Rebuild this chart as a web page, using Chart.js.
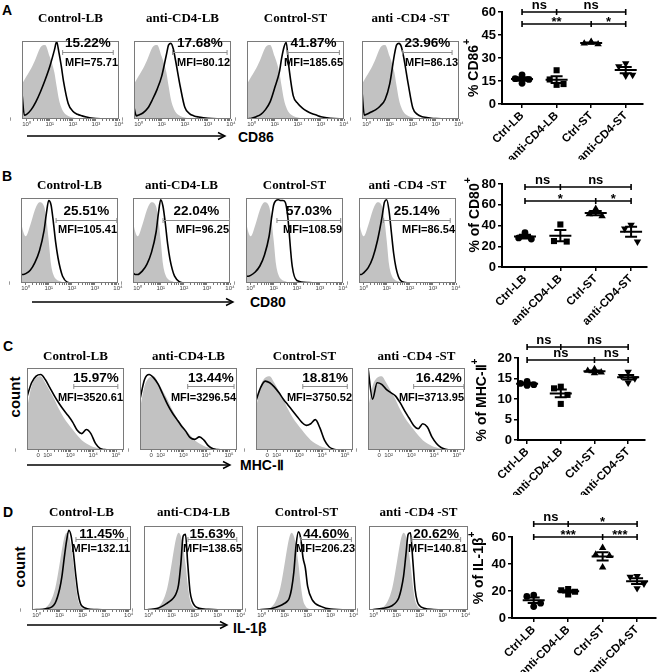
<!DOCTYPE html>
<html>
<head>
<meta charset="utf-8">
<script src="https://cdn.jsdelivr.net/npm/chart.js@4.4.1/dist/chart.umd.min.js"></script>
<style>
  body { margin: 0; background: #fff; }
  #fig { position: relative; width: 660px; height: 672px; overflow: hidden; font-family: 'Liberation Sans', Arial, sans-serif; }
  #fig canvas { position: absolute; }
  .lbl { position: absolute; font-weight: bold; color: #000; white-space: nowrap; line-height: 1; }
  .rot { transform: translate(-50%, -50%) rotate(-90deg); }
</style>
</head>
<body>
<div id="fig">
  <div class="lbl" style="left:2px;top:3px;font-size:14px">A</div>
  <div class="lbl" style="left:2px;top:169px;font-size:14px">B</div>
  <div class="lbl" style="left:3px;top:339px;font-size:14px">C</div>
  <div class="lbl" style="left:3px;top:505px;font-size:14px">D</div>
  <div class="lbl" style="left:238px;top:130px;font-size:14px">CD86</div>
  <div class="lbl" style="left:250px;top:295px;font-size:14px">CD80</div>
  <div class="lbl" style="left:240px;top:458px;font-size:14px">MHC-Ⅱ</div>
  <div class="lbl" style="left:233px;top:621px;font-size:14px">IL-1β</div>
  <div class="lbl rot" style="left:14px;top:397px;font-size:15px">count</div>
  <div class="lbl rot" style="left:19px;top:567px;font-size:15px">count</div>
  <svg width="660" height="672" style="position:absolute;left:0;top:0">
    <g stroke="#000" stroke-width="1.4" fill="none">
      <line x1="27" y1="136" x2="224" y2="136"/><polyline points="218,132.5 225,136 218,139.5"/>
      <line x1="32" y1="302" x2="232" y2="302"/><polyline points="226,298.5 233,302 226,305.5"/>
      <line x1="27" y1="465" x2="229" y2="465"/><polyline points="223,461.5 230,465 223,468.5"/>
      <line x1="27" y1="625" x2="226" y2="625"/><polyline points="220,621.5 227,625 220,628.5"/>
    </g>
  </svg>
</div>
<script>
// ---------- Histogramas (eje x en décadas, altura relativa) ----------
const titulos = ["Control-LB", "anti-CD4-LB", "Control-ST", "anti -CD4 -ST"];

const gridCD86 = [-0.2, -0.1, 0, 0.2, 0.4, 0.6, 0.8, 1.0, 1.2, 1.3, 1.4, 1.5, 1.6, 1.8, 2.0, 2.2, 2.4, 2.6, 2.8, 3.0, 3.4, 4.0];
const isoCD86 = [.45, .5, .55, .65, .78, .92, .95, .8, .6, .42, .25, .15, .09, .04, .02, .01, .005, 0, 0, 0, 0, 0];
const histCD86CtrlLB = [.33, .05, .06, .12, .22, .35, .5, .67, .88, .99, .85, .68, .48, .2, .1, .06, .04, .025, .012, .005, 0, 0];
const histCD86AntiLB = [.15, .04, .05, .08, .14, .25, .38, .55, .82, .95, .97, .9, .75, .42, .15, .07, .04, .025, .015, .008, .002, 0];
const histCD86CtrlST = [0, .005, .01, .03, .06, .12, .22, .4, .6, .78, .92, .98, .7, .3, .2, .14, .1, .07, .05, .03, .01, 0];
const histCD86AntiST = [.35, .05, .06, .09, .12, .17, .25, .45, .82, .95, .97, .93, .8, .45, .14, .06, .03, .02, .01, .005, 0, 0];
const pctCD86 = ["15.22%", "17.68%", "41.87%", "23.96%"];
const mfiCD86 = ["MFI=75.71", "MFI=80.12", "MFI=185.65", "MFI=86.13"];
const gateCD86 = [[1.56, 3.75], [1.47, 3.83], [1.56, 3.8], [1.56, 3.7]];

const gridCD80 = [-0.2, -0.1, 0, 0.2, 0.4, 0.6, 0.8, 0.9, 1.0, 1.1, 1.2, 1.3, 1.4, 1.5, 1.6, 1.8, 2.0, 2.5, 3.0, 4.0];
const isoCD80 = [.72, .6, .55, .68, .86, .95, .9, .75, .5, .22, .1, .05, .03, .02, .01, .005, 0, 0, 0, 0];
const histCD80CtrlLB = [.1, .1, .11, .15, .24, .38, .62, .82, .97, .92, .72, .48, .3, .17, .08, .01, 0, 0, 0, 0];
const histCD80AntiLB = [.12, .1, .1, .14, .22, .36, .6, .82, .98, .9, .7, .46, .28, .16, .08, .015, 0, 0, 0, 0];
const histCD80CtrlST = [.08, .08, .09, .13, .2, .33, .55, .75, .92, .97, .98, .97, .97, .95, .8, .2, .03, .005, 0, 0];
const histCD80AntiST = [.1, .1, .12, .18, .3, .5, .78, .95, .98, .85, .6, .35, .18, .08, .03, .005, 0, 0, 0, 0];
const pctCD80 = ["25.51%", "22.04%", "57.03%", "25.14%"];
const mfiCD80 = ["MFI=105.41", "MFI=96.25", "MFI=108.59", "MFI=86.54"];
const gateCD80 = [[1.32, 3.95], [1.1, 3.98], [1.14, 3.9], [0.85, 3.75]];

const gridMHC = [1.1, 1.3, 1.5, 1.7, 1.9, 2.1, 2.3, 2.5, 2.7, 2.9, 3.1, 3.3, 3.5, 3.7, 3.9, 4.1, 4.3, 4.5, 4.7, 4.9, 5.1, 5.3];
const isoMHC = [.5, .78, .88, .9, .82, .72, .62, .5, .4, .32, .25, .18, .12, .08, .05, .03, .015, .005, 0, 0, 0, 0];
const histMHCCtrlLB = [.65, .82, .9, .92, .86, .76, .66, .57, .49, .42, .34, .24, .2, .25, .2, .08, .02, .005, 0, 0, 0, 0];
const histMHCAntiLB = [.62, .86, .92, .88, .8, .68, .56, .46, .38, .3, .23, .15, .13, .16, .12, .05, .015, .005, 0, 0, 0, 0];
const histMHCCtrlST = [.6, .76, .84, .82, .77, .7, .62, .55, .48, .41, .34, .3, .32, .37, .27, .12, .04, .01, 0, 0, 0, 0];
const histMHCAntiST = [1.0, .62, .82, .8, .74, .7, .66, .58, .48, .39, .3, .26, .32, .28, .16, .08, .03, .01, 0, 0, 0, 0];
const pctMHC = ["15.97%", "13.44%", "18.81%", "16.42%"];
const mfiMHC = ["MFI=3520.61", "MFI=3296.54", "MFI=3750.52", "MFI=3713.95"];
const gateMHC = [[3.15, 5.08], [3.19, 5.22], [3.15, 5.1], [3.1, 5.3]];

const gridIL1B = [-0.2, 0, 0.4, 0.8, 1.0, 1.1, 1.2, 1.3, 1.4, 1.5, 1.6, 1.7, 1.8, 1.9, 2.0, 2.2, 2.6, 3.0, 4.0];
const isoIL1B = [0, .005, .03, .25, .55, .72, .86, .92, .88, .75, .55, .3, .12, .05, .02, .01, 0, 0, 0];
const histIL1BCtrlLB = [0, .005, .015, .08, .25, .4, .62, .82, .95, .88, .68, .42, .2, .08, .04, .015, .005, 0, 0];
const histIL1BAntiLB = [0, .005, .02, .08, .12, .15, .2, .3, .55, .88, .9, .55, .22, .1, .05, .02, .008, .002, 0];
const histIL1BCtrlST = [0, .005, .015, .05, .08, .1, .14, .25, .45, .78, .93, .85, .62, .5, .28, .12, .04, .01, 0];
const histIL1BAntiST = [0, .005, .02, .05, .1, .15, .25, .4, .65, .9, .92, .6, .25, .1, .05, .02, .005, 0, 0];
const pctIL1B = ["11.45%", "15.63%", "44.60%", "20.62%"];
const mfiIL1B = ["MFI=132.11", "MFI=138.65", "MFI=206.23", "MFI=140.81"];
const gateIL1B = [[1.71, 3.95], [1.71, 3.83], [1.7, 3.9], [1.66, 3.78]];

const decTicks = [0, 1, 2, 3, 4];
const decLabels = ["10⁰", "10¹", "10²", "10³", "10⁴"];
const mhcTicks = [1.59, 2, 3, 4, 5];
const mhcLabels = ["0", "10²", "10³", "10⁴", "10⁵"];

// ---------- Gráficos de puntos (% positivas) ----------
const grupos = ["Ctrl-LB", "anti-CD4-LB", "Ctrl-ST", "anti-CD4-ST"];
const cd86CtrlLB = [19, 16.5, 16, 13.5];
const cd86AntiLB = [22, 16, 13, 12.5];
const cd86CtrlST = [40.5, 39.5, 39, 40];
const cd86AntiST = [26.5, 24.5, 19, 18.5];
const cd80CtrlLB = [33, 28, 27];
const cd80AntiLB = [41, 25, 24.5];
const cd80CtrlST = [56, 51, 49];
const cd80AntiST = [40.5, 37, 24.5];
const mhcCtrlLB = [14.3, 13.8, 13.5, 13.3];
const mhcAntiLB = [13, 12.6, 11, 8.8];
const mhcCtrlST = [17.3, 16.9, 16.5, 16.3];
const mhcAntiST = [16.6, 15.6, 15.0, 14.0];
const il1bCtrlLB = [17, 16, 11, 8.5];
const il1bAntiLB = [21.5, 20.5, 19.5, 17.5];
const il1bCtrlST = [52, 47, 46, 37.5];
const il1bAntiST = [31, 30.5, 25.5, 22];

// significancia: nivel y, grupo intermedio, etiquetas
const sigCD86 = [{ y: 60, mid: 2, left: "ns", right: "ns" }, { y: 52, mid: 3, left: "**", right: "*" }];
const sigCD80 = [{ y: 77.5, mid: 2, left: "ns", right: "ns" }, { y: 64, mid: 3, left: "*", right: "*" }];
const sigMHC = [{ y: 22.7, mid: 2, left: "ns", right: "ns" }, { y: 19.4, mid: 3, left: "ns", right: "ns" }];
const sigIL1B = [{ y: 69.5, mid: 2, left: "ns", right: "*" }, { y: 60, mid: 3, left: "***", right: "***" }];

// ---------- estilos ----------
const SANS = "'Liberation Sans', Arial, sans-serif";
const SERIF = "'Liberation Serif', 'Times New Roman', serif";
const GRIS = "#c2c2c2";
const JITTER = { 3: [0, -0.18, 0.18], 4: [0, -0.2, 0.2, 0] };
Chart.defaults.font.family = SANS;

const fig = document.getElementById("fig");

const histRows = [
  { grid: gridCD86, iso: isoCD86, curves: [histCD86CtrlLB, histCD86AntiLB, histCD86CtrlST, histCD86AntiST], pct: pctCD86, mfi: mfiCD86, gates: gateCD86,
    ticks: decTicks, tickText: decLabels, xMin: -0.2, xMax: 4.0, lefts: [22, 134, 247, 362], top: 41, w: 97, h: 78, titleGap: 22, gateY: 0.86, pctAbove: 9, mfiBelow: 10 },
  { grid: gridCD80, iso: isoCD80, curves: [histCD80CtrlLB, histCD80AntiLB, histCD80CtrlST, histCD80AntiST], pct: pctCD80, mfi: mfiCD80, gates: gateCD80,
    ticks: decTicks, tickText: decLabels, xMin: -0.2, xMax: 4.0, lefts: [21, 133, 246, 359], top: 198, w: 97, h: 85, titleGap: 12, gateY: 0.74, pctAbove: 9, mfiBelow: 9 },
  { grid: gridMHC, iso: isoMHC, curves: [histMHCCtrlLB, histMHCAntiLB, histMHCCtrlST, histMHCAntiST], pct: pctMHC, mfi: mfiMHC, gates: gateMHC,
    ticks: mhcTicks, tickText: mhcLabels, xMin: 1.1, xMax: 5.35, lefts: [27, 140, 256, 368], top: 368, w: 97, h: 82, titleGap: 11, gateY: 0.78, pctAbove: 8, mfiBelow: 11 },
  { grid: gridIL1B, iso: isoIL1B, curves: [histIL1BCtrlLB, histIL1BAntiLB, histIL1BCtrlST, histIL1BAntiST], pct: pctIL1B, mfi: mfiIL1B, gates: gateIL1B,
    ticks: decTicks, tickText: decLabels, xMin: -0.2, xMax: 4.1, lefts: [32, 144, 257, 369], top: 526, w: 99, h: 84, titleGap: 13, gateY: 0.845, pctAbove: 5, mfiBelow: 9 }
];

// marcas menores logarítmicas entre décadas
function minorTicks(row) {
  const out = [];
  row.ticks.forEach((t, k) => {
    if (k === 0 && row.ticks === mhcTicks) return;
    for (let m = 2; m <= 9; m++) {
      const v = t + Math.log10(m);
      if (v > row.xMin && v < row.xMax) out.push(v);
    }
  });
  return out;
}

// marco, título, puerta y textos del histograma
const histDecor = {
  id: "histDecor",
  afterDraw(chart, args, o) {
    const { ctx, chartArea: a, scales: { x, y } } = chart;
    ctx.save();
    ctx.strokeStyle = "#7a7a7a";
    ctx.lineWidth = 1;
    ctx.strokeRect(a.left + 0.5, a.top + 0.5, a.right - a.left - 1, a.bottom - a.top - 1);
    ctx.fillStyle = "#000";
    ctx.textAlign = "center";
    ctx.textBaseline = "middle";
    ctx.font = "bold 13px " + SERIF;
    ctx.fillText(o.title, (a.left + a.right) / 2, a.top - o.titleGap);
    const gx0 = x.getPixelForValue(o.gate[0]), gx1 = x.getPixelForValue(o.gate[1]);
    const gy = Math.round(y.getPixelForValue(o.gateY)) + 0.5;
    ctx.strokeStyle = "#8c8c8c";
    ctx.beginPath();
    ctx.moveTo(gx0, gy); ctx.lineTo(gx1, gy);
    ctx.moveTo(gx0, gy - 2.5); ctx.lineTo(gx0, gy + 2.5);
    ctx.moveTo(gx1, gy - 2.5); ctx.lineTo(gx1, gy + 2.5);
    ctx.stroke();
    ctx.font = "bold 13.5px " + SANS;
    ctx.fillText(o.pct, (gx0 + gx1) / 2, gy - o.pctAbove);
    ctx.textAlign = "right";
    ctx.font = "bold 11px " + SANS;
    ctx.fillText(o.mfi, a.right - 1, gy + o.mfiBelow);
    ctx.restore();
  }
};

function histChart(row, i) {
  const padL = 12, padT = 32, padR = 30, padB = 12;
  const cv = document.createElement("canvas");
  cv.width = row.w + padL + padR;
  cv.height = row.h + padT + padB;
  cv.style.left = (row.lefts[i] - padL) + "px";
  cv.style.top = (row.top - padT) + "px";
  fig.appendChild(cv);
  const minors = minorTicks(row);
  const etiqueta = v => {
    const k = row.ticks.indexOf(v);
    return k >= 0 ? row.tickText[k] : "";
  };
  new Chart(cv, {
    type: "line",
    data: {
      datasets: [
        { data: row.grid.map((x, k) => ({ x, y: row.curves[i][k] })), borderColor: "#000", borderWidth: 1.6,
          fill: false, pointRadius: 0, cubicInterpolationMode: "monotone" },
        { data: row.grid.map((x, k) => ({ x, y: row.iso[k] })), borderWidth: 0, borderColor: GRIS, backgroundColor: GRIS,
          fill: "origin", pointRadius: 0, cubicInterpolationMode: "monotone" }
      ]
    },
    options: {
      responsive: false, animation: false, devicePixelRatio: 1, events: [],
      layout: { padding: { top: padT, right: padR, left: 0, bottom: 0 } },
      plugins: {
        legend: { display: false }, tooltip: { enabled: false },
        histDecor: { title: titulos[i], titleGap: row.titleGap, gate: row.gates[i], gateY: row.gateY,
                     pct: row.pct[i], mfi: row.mfi[i], pctAbove: row.pctAbove, mfiBelow: row.mfiBelow }
      },
      scales: {
        x: {
          type: "linear", min: row.xMin, max: row.xMax,
          afterBuildTicks: s => { s.ticks = row.ticks.concat(minors).sort((p, q) => p - q).map(v => ({ value: v })); },
          afterFit: s => { s.height = padB; },
          grid: { drawOnChartArea: false, tickLength: 2, color: "#777" },
          border: { display: false },
          ticks: { autoSkip: false, maxRotation: 0, padding: 0, color: "#444", font: { size: 6 },
                   callback: v => etiqueta(v) }
        },
        y: {
          min: 0, max: 1,
          afterBuildTicks: s => { s.ticks = [{ value: 0 }]; },
          afterFit: s => { s.width = padL; },
          grid: { display: false }, border: { display: false },
          ticks: { padding: 3, color: "#444", font: { size: 6 }, callback: () => "0" }
        }
      }
    },
    plugins: [histDecor]
  });
}

histRows.forEach(row => [0, 1, 2, 3].forEach(i => histChart(row, i)));

// media ± EEM, barras de significancia y título del eje y
const dotDecor = {
  id: "dotDecor",
  afterDraw(chart, args, o) {
    const { ctx, scales: { x, y } } = chart;
    ctx.save();
    ctx.strokeStyle = "#000";
    ctx.fillStyle = "#000";
    ctx.lineWidth = 2;
    o.groups.forEach((vals, g) => {
      const n = vals.length;
      const m = vals.reduce((s, v) => s + v, 0) / n;
      const sd = Math.sqrt(vals.reduce((s, v) => s + (v - m) ** 2, 0) / (n - 1));
      const sem = sd / Math.sqrt(n);
      const cx = x.getPixelForValue(g + 1);
      const ym = y.getPixelForValue(m), yh = y.getPixelForValue(m + sem), yl = y.getPixelForValue(m - sem);
      ctx.beginPath();
      ctx.moveTo(cx - 11, ym); ctx.lineTo(cx + 11, ym);
      ctx.moveTo(cx, yh); ctx.lineTo(cx, yl);
      ctx.moveTo(cx - 6, yh); ctx.lineTo(cx + 6, yh);
      ctx.moveTo(cx - 6, yl); ctx.lineTo(cx + 6, yl);
      ctx.stroke();
    });
    ctx.lineWidth = 1.6;
    ctx.textAlign = "center";
    ctx.textBaseline = "alphabetic";
    ctx.font = "bold 13px " + SANS;
    o.sig.forEach(s => {
      const yy = Math.round(y.getPixelForValue(s.y));
      const x0 = x.getPixelForValue(1), xm = x.getPixelForValue(s.mid), x1 = x.getPixelForValue(4);
      ctx.beginPath();
      ctx.moveTo(x0, yy); ctx.lineTo(x1, yy);
      [x0, xm, x1].forEach(px => { ctx.moveTo(px, yy - 3); ctx.lineTo(px, yy + 3); });
      ctx.stroke();
      [[s.left, (x0 + xm) / 2], [s.right, (xm + x1) / 2]].forEach(([t, px]) => {
        ctx.fillText(t, px, t.includes("*") ? yy + 2 : yy - 3);
      });
    });
    ctx.translate(o.titleX, o.titleY);
    ctx.rotate(-Math.PI / 2);
    ctx.textAlign = "left";
    ctx.textBaseline = "middle";
    ctx.font = "bold 14px " + SANS;
    const w = ctx.measureText(o.title).width;
    ctx.font = "bold 10px " + SANS;
    const w2 = ctx.measureText("+").width;
    const start = -(w + w2) / 2;
    ctx.font = "bold 14px " + SANS;
    ctx.fillText(o.title, start, 0);
    ctx.font = "bold 10px " + SANS;
    ctx.fillText("+", start + w, -7);
    ctx.restore();
  }
};

const marcas = [
  { pointStyle: "circle", rotation: 0, r: 3.4 },
  { pointStyle: "rect", rotation: 0, r: 4.3 },
  { pointStyle: "triangle", rotation: 0, r: 4.3 },
  { pointStyle: "triangle", rotation: 180, r: 4.3 }
];

const dotPanels = [
  { groups: [cd86CtrlLB, cd86AntiLB, cd86CtrlST, cd86AntiST], sig: sigCD86, title: "% CD86", yMax: 60, yStep: 15,
    T: 0, H: 160, area: { l: 502, t: 12, r: 643, b: 104 }, xMin: 0.42, xMax: 4.5, titleAt: [474, 68] },
  { groups: [cd80CtrlLB, cd80AntiLB, cd80CtrlST, cd80AntiST], sig: sigCD80, title: "% of CD80", yMax: 80, yStep: 20,
    T: 160, H: 165, area: { l: 502, t: 184, r: 647, b: 267 }, xMin: 0.35, xMax: 4.45, titleAt: [475, 215] },
  { groups: [mhcCtrlLB, mhcAntiLB, mhcCtrlST, mhcAntiST], sig: sigMHC, title: "% of MHC-Ⅱ", yMax: 20, yStep: 5,
    T: 325, H: 170, area: { l: 518, t: 358, r: 645, b: 440 }, xMin: 0.73, xMax: 4.5, titleAt: [482, 400] },
  { groups: [il1bCtrlLB, il1bAntiLB, il1bCtrlST, il1bAntiST], sig: sigIL1B, title: "% of IL-1β", yMax: 60, yStep: 20,
    T: 495, H: 177, area: { l: 512, t: 537, r: 656, b: 618 }, xMin: 0.37, xMax: 4.54, titleAt: [479, 568] }
];

function dotChart(p) {
  const L = 455, W = 205;
  const cv = document.createElement("canvas");
  cv.width = W; cv.height = p.H;
  cv.style.left = L + "px"; cv.style.top = p.T + "px";
  fig.appendChild(cv);
  const datasets = p.groups.map((vals, g) => ({
    data: vals.map((v, k) => ({ x: g + 1 + JITTER[vals.length][k], y: v })),
    pointStyle: marcas[g].pointStyle, pointRotation: marcas[g].rotation, pointRadius: marcas[g].r,
    pointBackgroundColor: "#000", pointBorderColor: "#000", pointBorderWidth: 0, showLine: false
  }));
  new Chart(cv, {
    type: "scatter",
    data: { datasets },
    options: {
      responsive: false, animation: false, devicePixelRatio: 1, events: [],
      layout: { padding: { top: p.area.t - p.T, right: L + W - p.area.r, left: 0, bottom: 0 } },
      plugins: {
        legend: { display: false }, tooltip: { enabled: false },
        dotDecor: { groups: p.groups, sig: p.sig, title: p.title, titleX: p.titleAt[0] - L, titleY: p.titleAt[1] - p.T }
      },
      scales: {
        x: {
          type: "linear", min: p.xMin, max: p.xMax,
          afterBuildTicks: s => { s.ticks = [1, 2, 3, 4].map(v => ({ value: v })); },
          afterFit: s => { s.height = p.T + p.H - p.area.b; },
          grid: { drawOnChartArea: false, tickLength: 4, color: "#000", lineWidth: 1.5 },
          border: { color: "#000", width: 2 },
          ticks: { autoSkip: false, minRotation: 45, maxRotation: 45, padding: 1, color: "#000",
                   font: { size: 11.5, weight: "bold" }, callback: v => grupos[v - 1] }
        },
        y: {
          min: 0, max: p.yMax,
          afterFit: s => { s.width = p.area.l - L; },
          grid: { drawOnChartArea: false, tickLength: 4, color: "#000", lineWidth: 1.5 },
          border: { color: "#000", width: 2 },
          ticks: { stepSize: p.yStep, padding: 2, color: "#000", font: { size: 13, weight: "bold" } }
        }
      }
    },
    plugins: [dotDecor]
  });
}

dotPanels.forEach(dotChart);
</script>
</body>
</html>
